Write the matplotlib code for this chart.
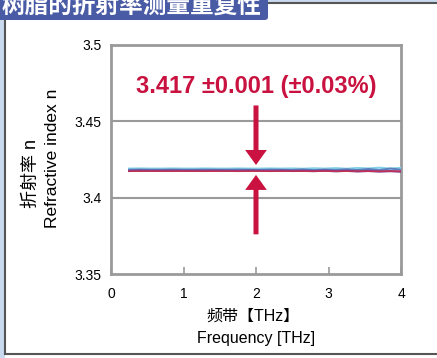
import matplotlib
matplotlib.use("Agg")
import matplotlib.pyplot as plt
from matplotlib.patches import Rectangle, FancyBboxPatch, FancyArrowPatch
from matplotlib.lines import Line2D

plt.rcParams['font.family'] = ['Liberation Sans', 'Noto Sans CJK SC', 'DejaVu Sans']

title = "树脂的折射率测量重复性"
xlabel_cn = "频带【THz】"
xlabel_en = "Frequency [THz]"
ylabel_cn = "折射率 n"
ylabel_en = "Refractive index n"
annot = "3.417 ±0.001 (±0.03%)"
xticks = [0, 1, 2, 3, 4]
yticks = [3.35, 3.4, 3.45, 3.5]
ytick_labels = ["3.35", "3.4", "3.45", "3.5"]

freq = [0.25, 0.40, 0.55, 0.70, 0.85, 1.00, 1.15, 1.30, 1.45, 1.60, 1.75, 1.90,
        2.05, 2.20, 2.35, 2.50, 2.65, 2.80, 2.95, 3.10, 3.25, 3.40, 3.55, 3.70,
        3.85, 4.00]
n_cyan = [3.4190, 3.4191, 3.4190, 3.4190, 3.4191, 3.4190, 3.4190, 3.4191, 3.4190, 3.4190,
          3.4191, 3.4190, 3.4190, 3.4191, 3.4190, 3.4191, 3.4189, 3.4192, 3.4190, 3.4193,
          3.4189, 3.4194, 3.4191, 3.4196, 3.4190, 3.4195]
n_blue = [3.4183, 3.4184, 3.4183, 3.4183, 3.4184, 3.4183, 3.4183, 3.4184, 3.4183, 3.4183,
          3.4184, 3.4183, 3.4182, 3.4184, 3.4183, 3.4182, 3.4185, 3.4181, 3.4184, 3.4182,
          3.4186, 3.4181, 3.4188, 3.4180, 3.4191, 3.4183]
n_purple = [3.4175, 3.4177, 3.4176, 3.4176, 3.4177, 3.4176, 3.4176, 3.4176, 3.4177, 3.4176,
            3.4175, 3.4177, 3.4176, 3.4175, 3.4177, 3.4175, 3.4176, 3.4174, 3.4177, 3.4173,
            3.4176, 3.4172, 3.4175, 3.4171, 3.4174, 3.4170]
n_red = [3.4173, 3.4173, 3.4174, 3.4173, 3.4173, 3.4174, 3.4173, 3.4173, 3.4173, 3.4174,
         3.4173, 3.4173, 3.4174, 3.4173, 3.4173, 3.4174, 3.4173, 3.4173, 3.4174, 3.4173,
         3.4173, 3.4174, 3.4173, 3.4173, 3.4174, 3.4173]

W, H = 437, 358
fig = plt.figure(figsize=(W / 100, H / 100), dpi=100)
fig.patch.set_facecolor('white')

def fx(px):
    return px / W

def fy(py):
    return 1 - py / H

# outer decorations
fig.add_artist(Rectangle((0, 0), fx(4.5), 1, transform=fig.transFigure,
                         facecolor='#c9d9ee', edgecolor='none', zorder=0))
fig.add_artist(Rectangle((0, fy(2.5)), 1, 2.5 / H, transform=fig.transFigure,
                         facecolor='#c9d9ee', edgecolor='none', zorder=0))
fig.add_artist(Line2D([fx(5), fx(5)], [fy(3), fy(354)], transform=fig.transFigure,
                      color='#555555', lw=1.5))
fig.add_artist(Line2D([fx(5), 1], [fy(354), fy(354)], transform=fig.transFigure,
                      color='#555555', lw=1.5))
fig.add_artist(Line2D([fx(5), 1], [fy(3), fy(3)], transform=fig.transFigure,
                      color='#555555', lw=1.5))
fig.add_artist(FancyBboxPatch((fx(-10), fy(20)), fx(278), 30 / H,
                              boxstyle="round,pad=0,rounding_size=0.008",
                              transform=fig.transFigure, facecolor='#4a5ba6',
                              edgecolor='none', zorder=3))
fig.text(fx(2), fy(6), title, color='white', fontsize=17, fontweight='bold',
         ha='left', va='center', family=['Noto Sans CJK SC'], zorder=4)

ax = fig.add_axes([fx(111), fy(274), fx(401) - fx(111), fy(45) - fy(274)])
ax.set_xlim(0, 4)
ax.set_ylim(3.35, 3.5)

for s in ax.spines.values():
    s.set_color('#9a9a9a')
    s.set_linewidth(2)

ax.set_yticks(yticks)
ax.set_yticklabels(ytick_labels)
ax.set_xticks(xticks)
ax.tick_params(axis='y', length=0, labelsize=10, pad=7)
ax.tick_params(axis='x', direction='in', length=5, width=1.2, color='#9a9a9a',
               labelsize=10, pad=9)
for y in [3.4, 3.45]:
    ax.axhline(y, color='#9a9a9a', lw=1.5, zorder=1)

ax.plot(freq, n_cyan, color='#86d2e6', lw=1.6, zorder=3)
ax.plot(freq, n_blue, color='#5b7fbf', lw=1.4, zorder=3)
ax.plot(freq, n_purple, color='#7b3f8e', lw=1.6, zorder=3)
ax.plot(freq, n_red, color='#c8304f', lw=1.0, zorder=4)

crimson = '#c9123f'
ax.text(2, 3.4727, annot, color=crimson, fontsize=17, fontweight='bold',
        ha='center', va='center')
style = "simple,head_width=1.3,head_length=0.9,tail_width=0.3"
ax.add_patch(FancyArrowPatch((2, 3.4604), (2, 3.4214), arrowstyle=style,
                             mutation_scale=12, color=crimson, lw=0, zorder=5,
                             shrinkA=0, shrinkB=0))
ax.add_patch(FancyArrowPatch((2, 3.3760), (2, 3.4149), arrowstyle=style,
                             mutation_scale=12, color=crimson, lw=0, zorder=5,
                             shrinkA=0, shrinkB=0))

fig.text(fx(31), fy(173), ylabel_cn, rotation=90, ha='center', va='center', fontsize=13)
fig.text(fx(53), fy(158), ylabel_en, rotation=90, ha='center', va='center', fontsize=12.5)
fig.text(fx(253), fy(316), xlabel_cn, ha='center', va='center', fontsize=11.5)
fig.text(fx(256), fy(338), xlabel_en, ha='center', va='center', fontsize=11.5)

fig.savefig('out.png', dpi=100)
